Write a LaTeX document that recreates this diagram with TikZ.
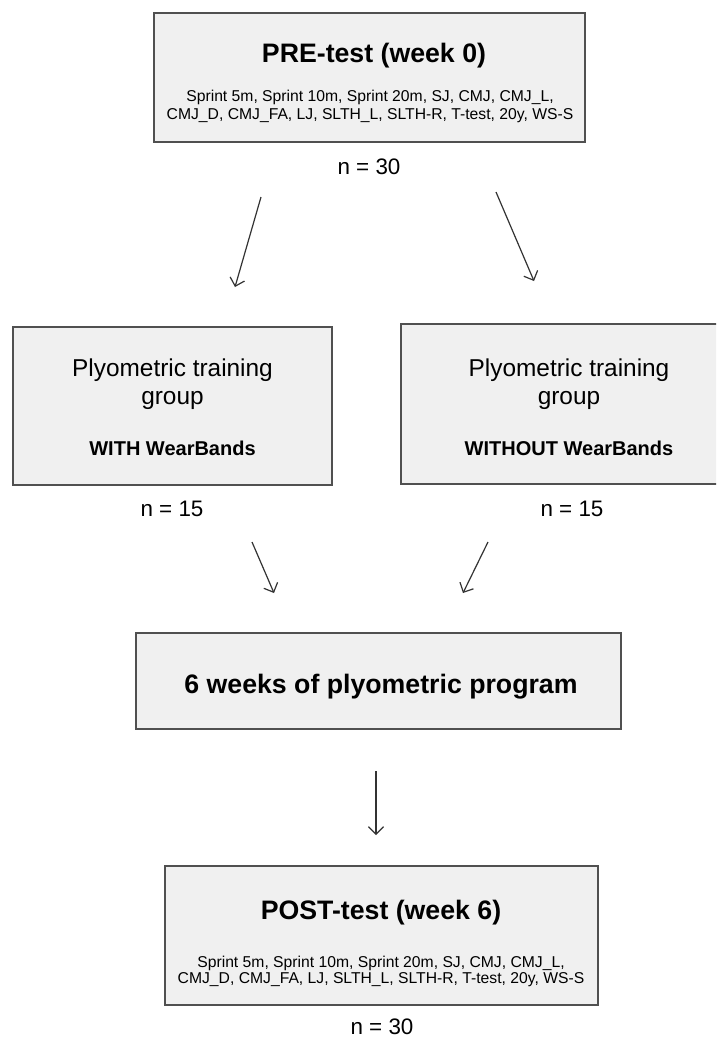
\documentclass[tikz,border=0pt]{standalone}
\usepackage{fontspec}
\setmainfont{Liberation Sans}
\usetikzlibrary{arrows.meta}
\definecolor{boxfill}{HTML}{F0F0F0}
\definecolor{boxline}{HTML}{505050}
\begin{document}
\begin{tikzpicture}[x=1pt,y=-1pt,
  box/.style={draw=boxline,line width=1.6pt,fill=boxfill},
  arr/.style={draw=black!80,line width=1.2pt,-{Straight Barb[length=7.5pt,width=15pt,line width=1.2pt]}},
  ttl/.style={font=\fontsize{26.7}{32}\selectfont\bfseries,inner sep=0pt},
  sub/.style={font=\fontsize{15.7}{18}\selectfont,align=center,inner sep=0pt},
  subb/.style={font=\fontsize{15.7}{16}\selectfont,align=center,inner sep=0pt},
  grp/.style={font=\fontsize{24.4}{28}\selectfont,align=center,inner sep=0pt},
  grpb/.style={font=\fontsize{20}{24}\selectfont\bfseries,inner sep=0pt},
  cnt/.style={font=\fontsize{22.4}{26}\selectfont,inner sep=0pt}]
\useasboundingbox (0,0) rectangle (716,1039);
\clip (0,0) rectangle (716,1039);
\fill[white] (0,0) rectangle (716,1039);

% top box
\path[box] (154,13) rectangle (585,142);
\node[ttl] (pretitle) at (374,56) {PRE-test (week 0)};
\node[sub] (prelist) at (370,106) {Sprint 5m, Sprint 10m, Sprint 20m, SJ, CMJ, CMJ\_L,\\CMJ\_D, CMJ\_FA, LJ, SLTH\_L, SLTH-R, T-test, 20y, WS-S};
\node[cnt] (pren) at (369,167) {n = 30};

% group boxes
\path[box] (13,327) rectangle (332,485);
\node[grp] (g1) at (172.5,384) {Plyometric training\\group};
\node[grpb] (g1b) at (172.5,448) {WITH WearBands};
\node[cnt] (g1n) at (172,509) {n = 15};

\path[box] (401,324) rectangle (737,484);
\node[grp] (g2) at (569,384) {Plyometric training\\group};
\node[grpb] (g2b) at (569,448) {WITHOUT WearBands};
\node[cnt] (g2n) at (572,509) {n = 15};

% program box
\path[box] (136,633) rectangle (621,729);
\node[ttl] (prog) at (381,687) {6 weeks of plyometric program};

% post box
\path[box] (165,866) rectangle (598,1005);
\node[ttl] (posttitle) at (381,913) {POST-test (week 6)};
\node[subb] (postlist) at (381,971) {Sprint 5m, Sprint 10m, Sprint 20m, SJ, CMJ, CMJ\_L,\\CMJ\_D, CMJ\_FA, LJ, SLTH\_L, SLTH-R, T-test, 20y, WS-S};
\node[cnt] (postn) at (382,1027) {n = 30};

% arrow end points
\coordinate (a1s) at (261,197); \coordinate (a1e) at (235,287);
\coordinate (a2s) at (496,192); \coordinate (a2e) at (534,281);
\coordinate (a3s) at (252,542); \coordinate (a3e) at (274,593);
\coordinate (a4s) at (488,542); \coordinate (a4e) at (463,593);
\coordinate (a5s) at (376,771); \coordinate (a5e) at (376,835);

\draw[arr] (a1s) -- (a1e);
\draw[arr] (a2s) -- (a2e);
\draw[arr] (a3s) -- (a3e);
\draw[arr] (a4s) -- (a4e);
\draw[arr] (a5s) -- (a5e);
\end{tikzpicture}
\end{document}
